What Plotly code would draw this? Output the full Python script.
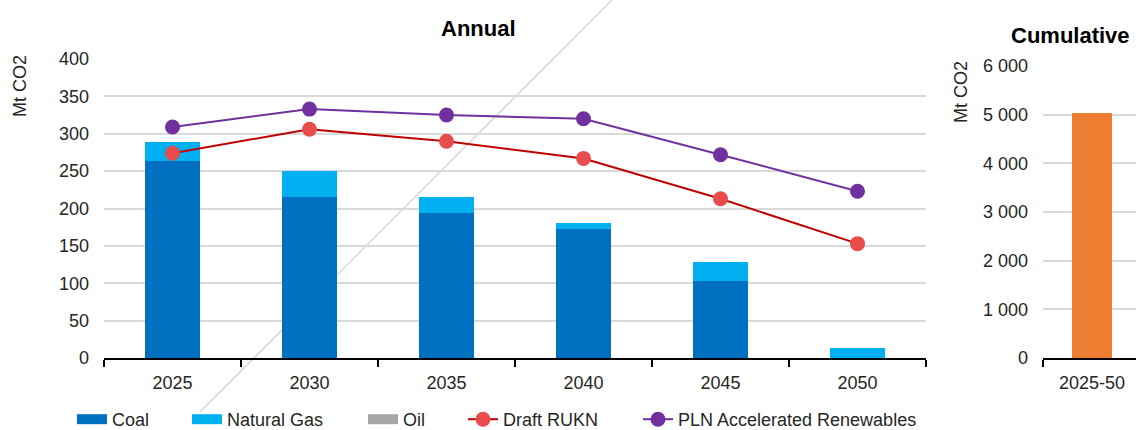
import plotly.graph_objects as go

# ---- data ----
years = ["2025", "2030", "2035", "2040", "2045", "2050"]
coal = [264, 216, 194, 172, 103, 0]
natural_gas = [25, 34, 21, 8, 26, 14]
oil = [0, 0, 0, 0, 0, 0]
draft_rukn = [274, 306, 290, 267, 213, 153]
pln_accel = [309, 333, 325, 320, 272, 223]
cum_period = ["2025-50"]
cum_value = [5030]

FONT = "Liberation Sans, Arial, sans-serif"
TXT = "#262626"
W, H = 1136, 430
ML, MR, MT, MB = 104, 0, 59, 72
PW, PH = W - ML - MR, H - MT - MB


def px(x):
    return (x - ML) / PW


def py(y):
    return (H - MB - y) / PH


fig = go.Figure()

# bars (annual)
fig.add_bar(x=years, y=coal, name="Coal", marker_color="#0070c0", width=0.4,
            showlegend=False, xaxis="x", yaxis="y")
fig.add_bar(x=years, y=natural_gas, name="Natural Gas", marker_color="#00b0f0", width=0.4,
            showlegend=False, xaxis="x", yaxis="y")
fig.add_bar(x=years, y=oil, name="Oil", marker_color="#a5a5a5", width=0.4,
            showlegend=False, xaxis="x", yaxis="y")

# lines
fig.add_scatter(x=years, y=draft_rukn, name="Draft RUKN", mode="lines+markers",
                line=dict(color="#c00000", width=2),
                marker=dict(color="#e84c4c", size=15),
                legend="legend4", xaxis="x", yaxis="y")
fig.add_scatter(x=years, y=pln_accel, name="PLN Accelerated Renewables", mode="lines+markers",
                line=dict(color="#7030a0", width=2),
                marker=dict(color="#7030a0", size=15),
                legend="legend5", xaxis="x", yaxis="y")

# cumulative
fig.add_bar(x=cum_period, y=cum_value, name="Cumulative", marker_color="#ed7d31", width=0.4,
            showlegend=False, xaxis="x2", yaxis="y2")

# legend swatches for bar series
for nm, col, lg in [("Coal", "#0070c0", "legend"), ("Natural Gas", "#00b0f0", "legend2"),
                    ("Oil", "#a5a5a5", "legend3")]:
    fig.add_scatter(x=[None], y=[None], mode="lines", name=nm,
                    line=dict(color=col, width=10), legend=lg, xaxis="x", yaxis="y")

legend_base = dict(orientation="h", yanchor="middle", y=py(419.5), xanchor="left",
                   font=dict(family=FONT, size=18, color=TXT), bgcolor="rgba(0,0,0,0)",
                   borderwidth=0, itemwidth=30)
starts = [77, 192, 368, 468, 643]
legends = {}
for i, s in enumerate(starts):
    key = "legend" if i == 0 else f"legend{i+1}"
    legends[key] = dict(legend_base, x=px(s - 5))

grid = "#d9d9d9"
fig.update_layout(
    width=W, height=H, template="none",
    margin=dict(l=ML, r=MR, t=MT, b=MB, pad=0, autoexpand=False),
    paper_bgcolor="white", plot_bgcolor="rgba(0,0,0,0)",
    barmode="stack", separators=". ",
    font=dict(family=FONT, size=18, color=TXT),
    xaxis=dict(domain=[0, px(926)], type="category", anchor="y",
               showline=True, linecolor="#000000", linewidth=1.5,
               ticks="outside", tickson="boundaries", ticklen=7, tickcolor="#000000", tickwidth=1.5,
               showgrid=False, tickfont=dict(size=18, color=TXT), ticklabelstandoff=8),
    yaxis=dict(domain=[0, 1], range=[0, 400], dtick=50, anchor="x",
               showline=False, ticks="", showgrid=True, gridcolor=grid, gridwidth=1.5,
               zeroline=False, tickfont=dict(size=18, color=TXT), ticklabelstandoff=14),
    xaxis2=dict(domain=[px(1043), 1], type="category", anchor="y2", range=[-0.5, 0.449],
                showline=True, linecolor="#000000", linewidth=1.5,
                ticks="outside", tickson="boundaries", ticklen=7, tickcolor="#000000", tickwidth=1.5,
                showgrid=False, tickfont=dict(size=18, color=TXT), ticklabelstandoff=8),
    yaxis2=dict(domain=[0, py(66)], range=[0, 6000], dtick=1000, anchor="x2",
                tickformat=",d", showline=False, ticks="", showgrid=True,
                gridcolor=grid, gridwidth=1.5, zeroline=False,
                tickfont=dict(size=18, color=TXT), ticklabelstandoff=14),
    **legends,
)

fig.add_annotation(text="<b>Annual</b>", x=px(478), y=py(28), xref="paper", yref="paper",
                   showarrow=False, font=dict(size=22, color="#000000"), xanchor="center", yanchor="middle")
fig.add_annotation(text="<b>Cumulative</b>", x=px(1070), y=py(35), xref="paper", yref="paper",
                   showarrow=False, font=dict(size=22, color="#000000"), xanchor="center", yanchor="middle")
fig.add_annotation(text="Mt CO2", x=px(20), y=py(86), xref="paper", yref="paper", textangle=-90,
                   showarrow=False, font=dict(size=18, color=TXT), xanchor="center", yanchor="middle")
fig.add_annotation(text="Mt CO2", x=px(961), y=py(92), xref="paper", yref="paper", textangle=-90,
                   showarrow=False, font=dict(size=18, color=TXT), xanchor="center", yanchor="middle")

# faint diagonal stroke seen in the reference
fig.add_shape(type="line", xref="paper", yref="paper", x0=px(200), y0=py(412), x1=px(612), y1=py(0),
              line=dict(color="#e2e2e2", width=2), layer="below")

fig.write_html("out.html", config={"displayModeBar": False},
               post_script="document.body.style.margin='0';")
